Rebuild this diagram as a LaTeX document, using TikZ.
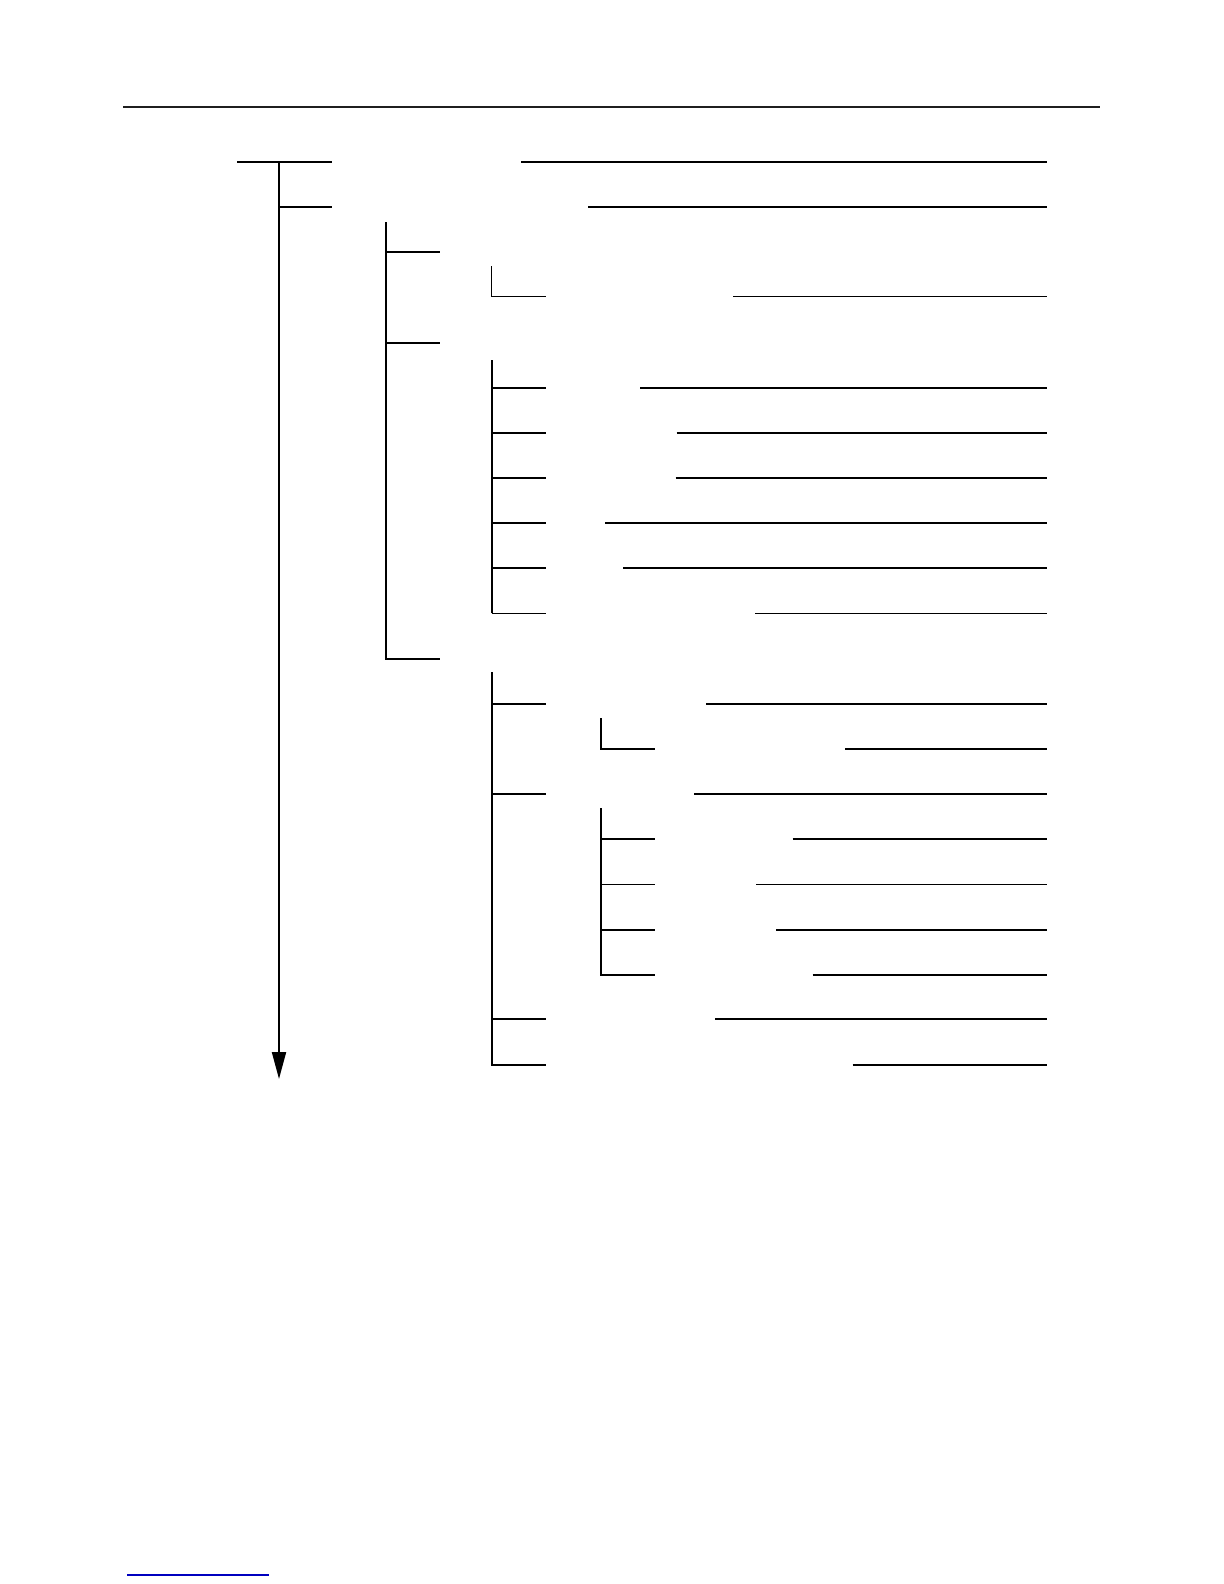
\documentclass[tikz,border=0pt]{standalone}
\usetikzlibrary{arrows.meta}
\begin{document}
\begin{tikzpicture}[x=0.5pt,y=-0.5pt,line width=1pt,
    fine/.style={line width=0.7pt}]
    \useasboundingbox (0,0) rectangle (1224,1584);
    % page rules
    \draw[black!88] (123,107) -- (1100,107);
    \draw[fine, blue!75!black] (127,1575) -- (269,1575);
    % trunk
    \coordinate (root) at (279,161.7);
    \coordinate (tip) at (279,1079);
    \draw (237,161.7) -- (332,161.7);
    \draw[-{Triangle[width=7pt,length=13.5pt]}] (root) -- (tip);
    \draw (279,206.7) -- (332,206.7);
    % second level
    \draw (385.7,222) |- (439.5,659);
    \foreach \y in {251.7,342.7} \draw (385.7,\y) -- (439.5,\y);
    % third level
    \draw[fine] (491.7,266) |- (545.7,296.7);
    \draw (491.7,360) -- (491.7,613.3);
    \foreach \y in {388,433,477.7,522.7,567.7} \draw (491.7,\y) -- (545.7,\y);
    \draw[fine] (491.7,613.3) -- (545.7,613.3);
    \draw (491.7,672.3) |- (545.7,1064.7);
    \foreach \y in {703.5,793.7,1019.3} \draw (491.7,\y) -- (545.7,\y);
    % fourth level
    \draw (600.7,718.3) |- (654.7,748.7);
    \draw (600.7,808.3) |- (654.7,974.7);
    \foreach \y in {839,930} \draw (600.7,\y) -- (654.7,\y);
    \draw[fine] (600.7,884.3) -- (654.7,884.3);
    % right-hand lines
    \foreach \s/\y in {521/161.7,588/206.7,640/388,676.7/433,675.7/477.7,605/522.7,623.3/567.7,
        706/703.5,845/748.7,694/793.7,792.7/839,776/930,812.7/974.7,715/1019.3,852.7/1064.7}
        \draw (\s,\y) -- (1047,\y);
    \foreach \s/\y in {733/296.7,755/613.3,756/884.3} \draw[fine] (\s,\y) -- (1047,\y);
\end{tikzpicture}
\end{document}
